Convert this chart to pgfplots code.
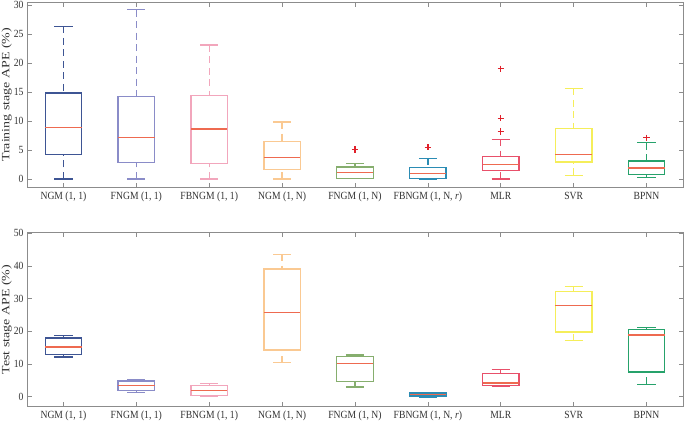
\documentclass[border=0pt]{standalone}
\usepackage{pgfplots}
\pgfplotsset{compat=1.18}
\usepgfplotslibrary{statistics}
\usepackage{fontspec}
\setmainfont{Liberation Serif}
\usepackage{graphicx}

\definecolor{c1}{HTML}{3E5594}
\definecolor{c2}{HTML}{8A8CC8}
\definecolor{c3}{HTML}{F2A6BC}
\definecolor{c4}{HTML}{FAC992}
\definecolor{c5}{HTML}{86AE6E}
\definecolor{c6}{HTML}{2B8CB4}
\definecolor{c7}{HTML}{E8506A}
\definecolor{c8}{HTML}{F5EE5A}
\definecolor{c9}{HTML}{26A26B}
\definecolor{medc}{HTML}{EE6A50}
\definecolor{outc}{HTML}{E0202A}
\definecolor{axc}{HTML}{8C8C8C}
\definecolor{txc}{HTML}{333333}

\newcommand\sq[1]{\scalebox{0.88}[1]{#1}}
\newcommand\yl[1]{\scalebox{1}[0.8]{\fontsize{14}{16}\selectfont #1}}

\pgfplotsset{
  apeaxis/.style={
    scale only axis,
    width=656bp,
    xmin=0.5, xmax=9.5,
    xtick={1,...,9},
    xticklabels={\sq{NGM (1, 1)},\sq{FNGM (1, 1)},\sq{FBNGM (1, 1)},\sq{NGM (1, N)},\sq{FNGM (1, N)},\sq{FBNGM (1, N, \textit{r})},\sq{MLR},\sq{SVR},\sq{BPNN}},
    tick align=inside,
    tick pos=both,
    major tick length=4.5bp,
    axis line style={axc, line width=0.7pt},
    every tick/.style={axc, line width=0.7pt},
    tick label style={font=\fontsize{11}{12}\selectfont, text=txc},
    /pgf/number format/assume math mode=true,
    yticklabel={\sq{\pgfmathprintnumber{\tick}}},
    xticklabel style={yshift=-1bp},
    every axis y label/.style={at={(axis description cs:-0.031,0.5)}, rotate=90, anchor=center, text=txc},
    boxplot/draw direction=y,
    boxplot/box extend=0.5,
    boxplot/whisker extend=0.25,
    boxplot/every box/.style={line width=1.3pt},
    boxplot/every whisker/.style={line width=1.3pt},
    boxplot/every median/.style={draw=medc, line width=1.4pt},
    boxplot/draw/lower whisker/.code={%
      \draw[/pgfplots/boxplot/every whisker/.try, dash pattern=on 7bp off 4.5bp]
        (boxplot box cs:\pgfplotsboxplotvalue{lower whisker},0.5)
        -- (boxplot box cs:\pgfplotsboxplotvalue{lower quartile},0.5);
      \draw[/pgfplots/boxplot/every whisker/.try]
        (boxplot whisker cs:\pgfplotsboxplotvalue{lower whisker},0)
        -- (boxplot whisker cs:\pgfplotsboxplotvalue{lower whisker},1);
    },
    boxplot/draw/upper whisker/.code={%
      \draw[/pgfplots/boxplot/every whisker/.try, dash pattern=on 7bp off 4.5bp]
        (boxplot box cs:\pgfplotsboxplotvalue{upper whisker},0.5)
        -- (boxplot box cs:\pgfplotsboxplotvalue{upper quartile},0.5);
      \draw[/pgfplots/boxplot/every whisker/.try]
        (boxplot whisker cs:\pgfplotsboxplotvalue{upper whisker},0)
        -- (boxplot whisker cs:\pgfplotsboxplotvalue{upper whisker},1);
    },
  },
  bx/.style={draw=#1, line width=1.3pt, solid, mark=+, mark size=3.2pt,
    mark options={draw=outc, solid, line width=1.4pt}},
}

\begin{document}
\begin{tikzpicture}
\path[use as bounding box] (0,0) rectangle (685bp,-422bp);

% training stage
\begin{axis}[apeaxis,
  at={(27bp,-2bp)}, anchor=north west,
  height=185.6bp,
  ymin=-1.5, ymax=30.5,
  ytick={0,5,...,30},
  ylabel={\yl{Training stage APE (\%)}},
]
\addplot[bx=c1, boxplot prepared={draw position=1, lower whisker=0, lower quartile=4.25, median=8.85, upper quartile=14.8, upper whisker=26.3}] coordinates {};
\addplot[bx=c2, boxplot prepared={draw position=2, lower whisker=0, lower quartile=2.8, median=7.1, upper quartile=14.25, upper whisker=29.2}] coordinates {};
\addplot[bx=c3, boxplot prepared={draw position=3, lower whisker=0, lower quartile=2.6, median=8.6, upper quartile=14.4, upper whisker=23.1}] coordinates {};
\addplot[bx=c4, boxplot prepared={draw position=4, lower whisker=0, lower quartile=1.6, median=3.7, upper quartile=6.5, upper whisker=9.8}] coordinates {};
\addplot[bx=c5, boxplot prepared={draw position=5, lower whisker=0.05, lower quartile=0.1, median=1.15, upper quartile=2.07, upper whisker=2.65}] table[row sep=\\, y index=0] {5.05\\};
\addplot[bx=c6, boxplot prepared={draw position=6, lower whisker=0, lower quartile=0.02, median=0.9, upper quartile=2.0, upper whisker=3.55}] table[row sep=\\, y index=0] {5.45\\};
\addplot[bx=c7, boxplot prepared={draw position=7, lower whisker=0, lower quartile=1.45, median=2.5, upper quartile=3.85, upper whisker=6.85}] table[row sep=\\, y index=0] {19.0\\ 10.45\\ 8.15\\};
\addplot[bx=c8, boxplot prepared={draw position=8, lower whisker=0.6, lower quartile=2.9, median=4.2, upper quartile=8.7, upper whisker=15.6}] coordinates {};
\addplot[bx=c9, boxplot prepared={draw position=9, lower whisker=0.3, lower quartile=0.7, median=1.85, upper quartile=3.1, upper whisker=6.25}] table[row sep=\\, y index=0] {7.1\\};
\end{axis}

% test stage
\begin{axis}[apeaxis,
  at={(27bp,-232.3bp)}, anchor=north west,
  height=174.4bp,
  ymin=-3.1, ymax=50.3,
  ytick={0,10,...,50},
  ylabel={\yl{Test stage APE (\%)}},
]
\addplot[bx=c1, boxplot prepared={draw position=1, lower whisker=12.1, lower quartile=12.9, median=15.2, upper quartile=17.9, upper whisker=18.6}] coordinates {};
\addplot[bx=c2, boxplot prepared={draw position=2, lower whisker=1.3, lower quartile=1.9, median=3.4, upper quartile=4.8, upper whisker=5.3}] coordinates {};
\addplot[bx=c3, boxplot prepared={draw position=3, lower whisker=0, lower quartile=0.4, median=1.9, upper quartile=3.4, upper whisker=3.9}] coordinates {};
\addplot[bx=c4, boxplot prepared={draw position=4, lower whisker=10.4, lower quartile=14.3, median=25.7, upper quartile=39.1, upper whisker=43.6}] coordinates {};
\addplot[bx=c5, boxplot prepared={draw position=5, lower whisker=2.9, lower quartile=4.6, median=10.2, upper quartile=12.2, upper whisker=12.75}] coordinates {};
\addplot[bx=c6, boxplot prepared={draw position=6, lower whisker=-0.1, lower quartile=0.2, median=0.7, upper quartile=1.1, upper whisker=1.2}] coordinates {};
\addplot[bx=c7, boxplot prepared={draw position=7, lower whisker=3.1, lower quartile=3.5, median=4.2, upper quartile=7.1, upper whisker=8.3}] coordinates {};
\addplot[bx=c8, boxplot prepared={draw position=8, lower whisker=17.1, lower quartile=19.8, median=27.8, upper quartile=32.2, upper whisker=33.7}] coordinates {};
\addplot[bx=c9, boxplot prepared={draw position=9, lower whisker=3.8, lower quartile=7.55, median=18.8, upper quartile=20.6, upper whisker=21.1}] coordinates {};
\end{axis}
\end{tikzpicture}
\end{document}
